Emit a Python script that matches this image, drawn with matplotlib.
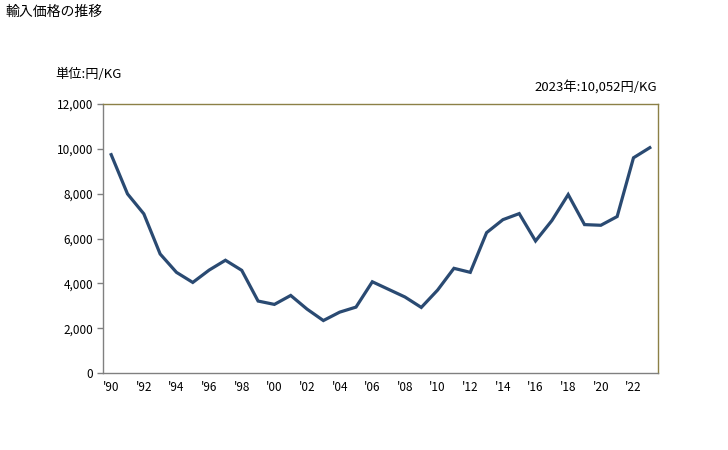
import matplotlib.pyplot as plt
from matplotlib.ticker import FuncFormatter

plt.rcParams['font.family'] = ['Noto Sans CJK JP', 'DejaVu Sans']

years = list(range(1990, 2024))
price = [9740, 7990, 7100, 5310, 4490, 4040, 4590, 5030, 4580, 3210,
         3060, 3460, 2850, 2340, 2715, 2940, 4070, 3730, 3390, 2925,
         3700, 4670, 4490, 6260, 6840, 7110, 5890, 6800, 7960, 6620,
         6590, 6980, 9600, 10052]
tick_years = list(range(1990, 2024, 2))
tick_labels = ["'" + str(y)[2:] for y in tick_years]

fig = plt.figure(figsize=(7.28, 4.5), dpi=100)
ax = fig.add_axes([0.1415, 0.1711, 0.7623, 0.5978])

ax.plot(years, price, color='#2a4a72', linewidth=2.3, solid_joinstyle='miter')

ax.set_xlim(1989.5, 2023.5)
ax.set_ylim(0, 12000)
ax.set_yticks(range(0, 12001, 2000))
ax.yaxis.set_major_formatter(FuncFormatter(lambda v, p: f"{int(v):,}"))
ax.set_xticks(tick_years)
ax.set_xticklabels(tick_labels)

ax.tick_params(axis='x', length=0, pad=6, labelsize=8.5)
ax.tick_params(axis='y', length=4, width=1, color='#808080', pad=3, labelsize=8.5)

ax.spines['left'].set_color('#808080')
ax.spines['bottom'].set_color('#808080')
ax.spines['top'].set_color('#8c8046')
ax.spines['right'].set_color('#8c8046')
for s in ax.spines.values():
    s.set_linewidth(1)

fig.text(5 / 728, 1 - 12 / 450, '輸入価格の推移', fontsize=10, va='center', ha='left')
fig.text(55 / 728, 1 - 74 / 450, '単位:円/KG', fontsize=9.5, va='center', ha='left')
fig.text(657 / 728, 1 - 87 / 450, '2023年:10,052円/KG', fontsize=9.5, va='center', ha='right')

fig.savefig('out.png', dpi=100)
